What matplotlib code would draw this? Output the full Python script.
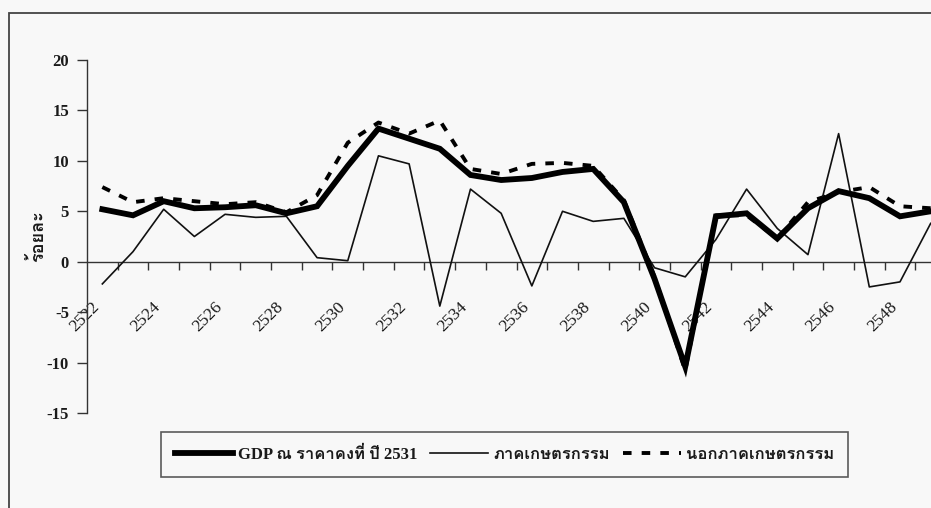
import matplotlib
matplotlib.use("Agg")
import matplotlib.pyplot as plt
from matplotlib import font_manager, ft2font
from matplotlib.transforms import ScaledTranslation
from matplotlib.patches import Rectangle

# ---------------- data ----------------
years = list(range(2522, 2550))
gdp = [5.2, 4.6, 6.0, 5.3, 5.4, 5.6, 4.8, 5.5, 9.5, 13.2, 12.2, 11.2, 8.6, 8.1,
       8.3, 8.9, 9.2, 5.9, -1.7, -10.4, 4.5, 4.8, 2.3, 5.3, 7.0, 6.3, 4.5, 5.0]
agri = [-2.2, 1.0, 5.2, 2.5, 4.7, 4.4, 4.5, 0.4, 0.1, 10.5, 9.7, -4.4, 7.2, 4.8,
        -2.4, 5.0, 4.0, 4.3, -0.6, -1.5, 2.2, 7.2, 3.3, 0.7, 12.7, -2.5, -2.0, 3.8]
nonagri = [7.4, 5.9, 6.3, 6.0, 5.7, 5.9, 4.9, 6.6, 11.8, 13.8, 12.7, 14.0, 9.2, 8.7,
           9.7, 9.8, 9.5, 6.1, -1.5, -10.8, 4.6, 4.6, 2.3, 5.9, 6.9, 7.4, 5.5, 5.3]
labels = ["GDP ณ ราคาคงที่ ปี 2531", "ภาคเกษตรกรรม", "นอกภาคเกษตรกรรม"]
ylabel = "ร้อยละ"
yticks = [-15, -10, -5, 0, 5, 10, 15, 20]
xlabel_years = [str(y) for y in years[::2]]

# ---------------- fonts ----------------
def find_thai_font():
    prefs = []
    for fe in font_manager.fontManager.ttflist:
        try:
            f = ft2font.FT2Font(fe.fname)
            if 0x0E01 in f.get_charmap():
                prefs.append(fe.name)
        except Exception:
            pass
    return prefs

thai = find_thai_font()
serif = "Liberation Serif"
fam = [serif] + thai[:1] + ["DejaVu Sans"]
plt.rcParams["font.family"] = fam

# ---------------- figure ----------------
W, H, DPI = 931, 508, 100
fig = plt.figure(figsize=(W / DPI, H / DPI), dpi=DPI, facecolor="#f8f8f8")

ax_left, ax_right = 87 / W, 946 / W
ax_top, ax_bot = 1 - 60 / H, 1 - 413 / H
ax = fig.add_axes([ax_left, ax_bot, ax_right - ax_left, ax_top - ax_bot])
ax.set_facecolor("none")

x = list(range(len(years)))
ax.plot(x, nonagri, color="black", lw=2.8, ls=(0, (2.2, 2.6)), zorder=3,
        label=labels[2])
ax.plot(x, agri, color="#111111", lw=1.2, zorder=4, label=labels[1])
ax.plot(x, gdp, color="black", lw=4.2, zorder=5, solid_joinstyle="miter",
        label=labels[0])

ax.set_xlim(-0.5, len(years) - 0.5)
ax.set_ylim(-15, 20)

for s in ["top", "right"]:
    ax.spines[s].set_visible(False)
ax.spines["left"].set_color("#333333")
ax.spines["left"].set_linewidth(1.0)
ax.spines["bottom"].set_position(("data", 0))
ax.spines["bottom"].set_color("#333333")
ax.spines["bottom"].set_linewidth(1.0)

ax.set_yticks(yticks)
ax.set_yticklabels([str(v) for v in yticks], fontsize=12, family=[serif],
                   fontweight="bold", color="#1a1a1a")
ax.tick_params(axis="y", direction="out", length=7, width=1.0, color="#333333", pad=6)

# boundaries ticks (major, no label) and category labels (minor, no tick)
ax.set_xticks([i + 0.5 for i in range(len(years) - 1)])
ax.set_xticklabels([])
ax.tick_params(axis="x", which="major", direction="out", length=6, width=1.0,
               color="#333333")
ax.set_xticks(x[::2], minor=True)
ax.set_xticklabels(xlabel_years, minor=True, rotation=45, ha="right", va="top",
                   rotation_mode="anchor", fontsize=12.5, family=[serif],
                   color="#1a1a1a")
ax.tick_params(axis="x", which="minor", length=0, pad=27)
off = ScaledTranslation(-11 / DPI, 0, fig.dpi_scale_trans)
for lab in ax.get_xticklabels(minor=True):
    lab.set_transform(lab.get_transform() + off)

ax.set_ylabel(ylabel, fontsize=13, family=fam, fontweight="bold", color="#1a1a1a")
ax.yaxis.set_label_coords((47 - 87) / (946 - 87), 0.5)

handles, labs = ax.get_legend_handles_labels()
order = [2, 1, 0]
leg = fig.legend([handles[i] for i in order], [labs[i] for i in order],
                 loc="center", bbox_to_anchor=(504.5 / W, 1 - 454.5 / H),
                 ncol=3, frameon=True, fancybox=False,
                 handlelength=3.5, handletextpad=0.3, columnspacing=0.75,
                 borderpad=0.85, prop={"family": fam, "size": 12, "weight": "bold"})
for t in leg.get_texts():
    t.set_color("#1a1a1a")
leg.get_frame().set_edgecolor("#333333")
leg.get_frame().set_linewidth(1.2)
leg.get_frame().set_facecolor("none")

# outer frame (cropped on right and bottom)
fig.patches.append(Rectangle((9 / W, -0.2), 2.0, 1.2 - 13 / H, transform=fig.transFigure,
                             fill=False, edgecolor="#444444", linewidth=1.3))

fig.savefig("out.png", dpi=DPI, facecolor=fig.get_facecolor())
